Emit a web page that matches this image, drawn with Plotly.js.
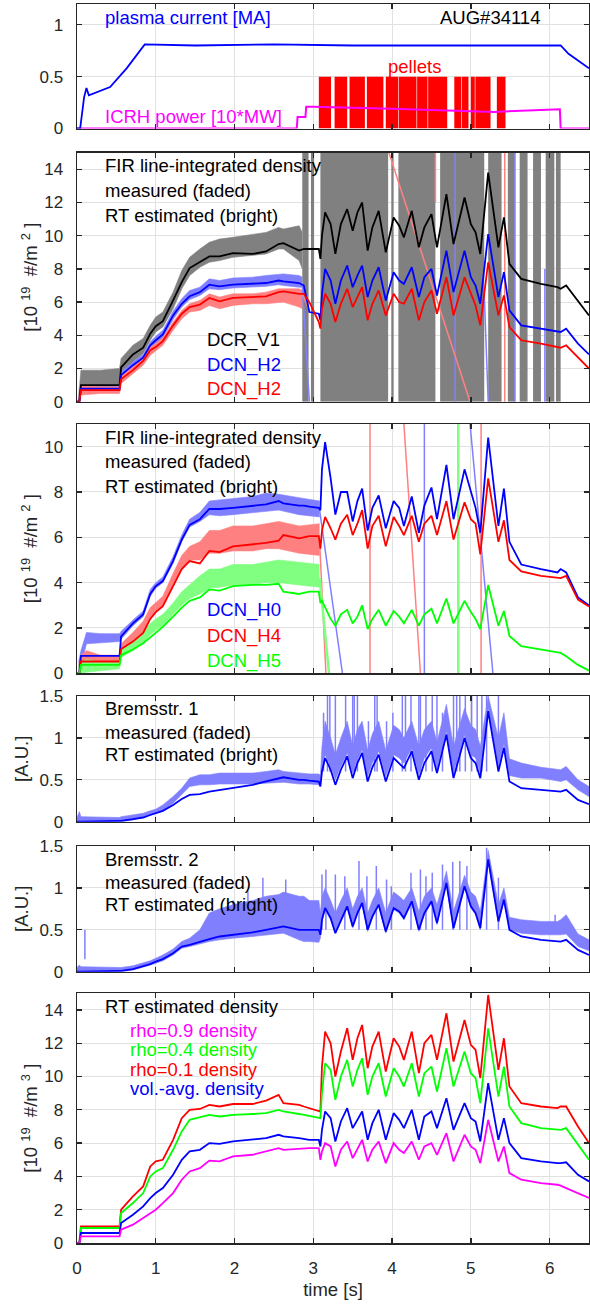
<!DOCTYPE html>
<html><head><meta charset="utf-8">
<script src="https://cdn.plot.ly/plotly-3.0.1.min.js"></script>
<style>html,body{margin:0;padding:0;background:#fff;} #chart{width:590px;height:1304px;}</style>
</head><body><div id="chart"></div>
<script>
// ---------------- DATA ----------------
// panel 1
const t_ip = [0, 0.04, 0.09, 0.12, 0.15, 0.42, 0.63, 0.86, 1.5, 2.5, 3.5, 4.5, 5.5, 6.14, 6.24, 6.5];
const ip   = [0, 0, 0.3, 0.39, 0.32, 0.40, 0.58, 0.81, 0.80, 0.81, 0.80, 0.80, 0.80, 0.80, 0.72, 0.58];
const t_icrh = [0, 2.79, 2.80, 2.90, 2.91, 3.0, 4.0, 4.97, 5.30, 6.13, 6.14, 6.5];
const icrh   = [0, 0, 0.11, 0.11, 0.21, 0.21, 0.19, 0.165, 0.16, 0.185, 0, 0];
const pellet_start = [3.07, 3.27, 3.46, 3.68, 3.92, 4.088, 4.318, 4.458, 4.79, 4.888, 5.0, 5.058, 5.33];
const pellet_end   = [3.225, 3.43, 3.655, 3.89, 4.08, 4.31, 4.45, 4.70, 4.88, 4.97, 5.05, 5.25, 5.44];
const pellet_level = 0.5;

// common time base of the RT estimated traces
const T = [0, 0.03, 0.05, 0.54, 0.56, 0.71, 0.84, 0.93,
           1.0, 1.09, 1.22, 1.33, 1.43, 1.56, 1.68, 1.81,
           1.98, 2.23, 2.40, 2.56, 2.62, 2.82, 2.88, 2.95,
           3.07, 3.09, 3.11, 3.15, 3.22, 3.28, 3.35, 3.43,
           3.50, 3.56, 3.62, 3.69, 3.75, 3.83, 3.92, 4.02,
           4.09, 4.15, 4.25, 4.34, 4.41, 4.50, 4.57, 4.69,
           4.78, 4.92, 5.00, 5.06, 5.12, 5.22, 5.35, 5.42,
           5.49, 5.64, 5.89, 6.10, 6.14, 6.21, 6.36, 6.50];

// panel 2 RT estimated
const dcr_v1_rt = [0, 0, 1.0, 1.0, 2.06, 2.85, 3.25, 4.1,
  4.55, 4.85, 6.1, 7.2, 8.05, 8.4, 8.75, 8.75,
  8.95, 8.9, 9.05, 9.5, 9.55, 9.1, 9.2, 9.2,
  9.2, 8.6, 10.0, 11.4, 10.7, 8.9, 10.7, 11.6,
  10.3, 11.4, 12.0, 9.1, 10.5, 11.5, 9.0, 11.1,
  10.6, 9.9, 11.5, 9.3, 10.5, 11.3, 9.3, 12.5,
  9.5, 12.3, 10.7, 10.2, 8.9, 13.8, 9.3, 11.1,
  8.3, 7.4, 7.1, 6.9, 6.8, 7.0, 6.1, 5.2];
const dcn_h2_rt = [0, 0, 0.78, 0.78, 1.6, 2.2, 2.65, 3.4,
  3.7, 4.05, 5.2, 5.9, 6.35, 6.6, 7.05, 6.95,
  7.05, 7.1, 7.15, 7.3, 7.25, 7.15, 7.0, 5.4,
  5.3, 4.9, 6.5, 8.0, 7.3, 5.9, 7.3, 8.2,
  6.9, 7.6, 8.2, 6.3, 7.3, 8.1, 6.1, 7.8,
  7.3, 7.1, 8.1, 6.3, 7.5, 8.0, 6.4, 9.1,
  6.6, 9.1, 7.5, 7.0, 5.9, 10.1, 6.3, 7.8,
  5.5, 4.6, 4.4, 4.2, 4.2, 4.4, 3.5, 2.85];
const dcn_h2b_rt = [0, 0, 0.7, 0.7, 1.36, 1.9, 2.45, 3.1,
  3.3, 3.65, 4.6, 5.3, 5.7, 5.85, 6.25, 6.05,
  6.25, 6.3, 6.35, 6.6, 6.65, 6.5, 6.5, 6.0,
  4.8, 4.4, 5.6, 6.5, 5.9, 4.8, 5.9, 6.8,
  5.7, 6.3, 6.9, 4.9, 5.9, 6.7, 5.2, 6.5,
  6.0, 5.9, 6.8, 4.9, 6.0, 6.7, 5.3, 7.5,
  5.2, 7.5, 6.5, 5.8, 4.6, 8.4, 5.2, 6.4,
  4.5, 3.7, 3.5, 3.3, 3.25, 3.4, 2.65, 2.0];

// panel 2 measured (faded) bands
const t_m2 = [0.02, 0.05, 0.3, 0.54, 0.56, 0.71, 0.84, 0.93, 1.0, 1.09, 1.22, 1.33, 1.43, 1.56, 1.68, 1.81, 1.98, 2.23, 2.40, 2.56, 2.62, 2.82, 2.86];
const dcr_v1_lo = [0, 0.8, 0.9, 0.9, 1.7, 2.4, 2.9, 3.7, 4.2, 4.5, 5.6, 6.8, 7.6, 8.1, 8.4, 8.5, 8.7, 8.8, 8.9, 9.2, 9.2, 8.5, 8.0];
const dcr_v1_hi = [0.3, 1.9, 1.9, 2.0, 2.6, 3.4, 3.8, 4.6, 5.1, 5.4, 6.6, 7.9, 8.7, 9.2, 9.6, 9.8, 9.9, 10.1, 10.2, 10.5, 10.4, 10.6, 10.2];
const dcn_h2_lo = [0, 0.5, 0.6, 0.6, 1.4, 2.0, 2.45, 3.2, 3.5, 3.85, 4.95, 5.7, 6.15, 6.4, 6.8, 6.75, 6.85, 6.9, 6.95, 7.05, 7.0, 6.9, 6.9];
const dcn_h2_hi = [0.2, 1.0, 1.0, 1.0, 1.8, 2.4, 2.85, 3.6, 3.95, 4.3, 5.45, 6.2, 6.7, 6.9, 7.4, 7.3, 7.45, 7.5, 7.6, 7.7, 7.7, 7.6, 7.5];
const dcn_h2b_lo = [0, 0.4, 0.5, 0.5, 1.1, 1.7, 2.2, 2.8, 3.05, 3.4, 4.3, 5.0, 5.4, 5.5, 5.8, 5.6, 5.8, 5.9, 5.9, 6.0, 6.0, 5.7, 5.6];
const dcn_h2b_hi = [0.2, 1.0, 0.9, 0.9, 1.6, 2.1, 2.65, 3.3, 3.5, 3.85, 4.8, 5.5, 5.9, 6.1, 6.5, 6.3, 6.5, 6.5, 6.6, 6.8, 6.8, 6.8, 6.7];
// DCR_V1 fringe-jump blocks (measured, faded)
const fringe_start = [2.86, 2.97, 3.09, 3.99, 4.08, 4.61, 5.22, 5.47, 5.62, 5.79, 5.95, 6.08];
const fringe_end   = [2.94, 3.01, 3.95, 4.02, 4.55, 5.17, 5.39, 5.56, 5.72, 5.89, 6.06, 6.14];
const fringe_level = 15;
// measured H2 jumps (faded lines)
const ghost2_blue_t = [2.86, 2.95, null, 4.80, 4.80, null, 5.17, 5.22, null, 5.56, 5.56, null, 5.94, 5.94];
const ghost2_blue_v = [7.0, 0, null, 0, 15, null, 6.5, 0, null, 0, 15, null, 0, 8];
const ghost2_red_t = [2.86, 2.95, null, 3.96, 4.99, null, 4.55, 4.55, null, 5.43, 5.43];
const ghost2_red_v = [6.5, 5.5, null, 15, 0, null, 12, 15, null, 0, 15];

// panel 3 RT estimated
const dcn_h0_rt = [0, 0, 0.77, 0.77, 1.63, 2.2, 2.6, 3.5,
  3.85, 4.07, 4.96, 5.9, 6.55, 6.8, 7.25, 7.25,
  7.3, 7.4, 7.45, 7.6, 7.5, 7.4, 7.4, 7.35,
  7.3, 7.2, 9.0, 10.2, 8.6, 7.0, 8.0, 8.0,
  6.7, 7.6, 8.15, 6.3, 7.3, 7.85, 6.4, 7.6,
  7.3, 6.5, 7.8, 6.2, 7.4, 8.2, 6.8, 9.2,
  6.8, 9.0, 8.0, 7.3, 6.2, 10.4, 6.5, 8.15,
  5.8, 4.8, 4.6, 4.45, 4.6, 4.45, 3.35, 3.0];
const dcn_h4_rt = [0, 0, 0.52, 0.52, 1.07, 1.4, 1.78, 2.4,
  2.7, 2.96, 3.85, 4.6, 4.95, 4.85, 5.4, 5.35,
  5.6, 5.7, 5.75, 5.85, 6.1, 5.95, 6.0, 6.05,
  6.05, 5.5, 6.3, 6.9, 6.4, 5.9, 6.6, 7.0,
  6.1, 6.6, 7.2, 5.5, 6.5, 6.95, 5.6, 6.9,
  6.5, 6.1, 6.95, 5.8, 6.6, 6.95, 6.1, 7.6,
  5.9, 7.55, 6.8, 6.6, 5.25, 8.6, 5.8, 6.75,
  5.0, 4.5, 4.3, 4.2, 4.2, 4.3, 3.25, 2.95];
const dcn_h5_rt = [0, 0, 0.37, 0.37, 0.8, 1.05, 1.33, 1.6,
  1.8, 2.05, 2.5, 2.9, 3.2, 3.35, 3.7, 3.65,
  3.85, 3.9, 3.9, 3.95, 3.6, 3.5, 3.55, 3.6,
  3.6, 3.1, 3.2, 2.9, 2.4, 2.1, 2.6, 2.8,
  2.2, 2.5, 3.0, 1.95, 2.4, 2.8, 2.1, 2.75,
  2.5, 2.2, 2.8, 2.1, 2.6, 2.85, 2.2, 3.3,
  2.2, 3.2, 2.7, 2.4, 1.95, 3.9, 2.1, 2.75,
  1.65, 1.2, 1.05, 0.9, 0.9, 0.75, 0.37, 0.12];

// panel 3 measured (faded) bands
const t_m3 = [0.02, 0.05, 0.12, 0.3, 0.54, 0.56, 0.71, 0.84, 0.93, 1.0, 1.09, 1.22, 1.33, 1.43, 1.56, 1.68, 1.81, 1.98, 2.23, 2.40, 2.56, 2.82, 3.08];
const dcn_h0_lo = [0, 0.3, 1.3, 1.35, 1.4, 1.5, 2.1, 2.5, 3.4, 3.75, 4.0, 4.85, 5.8, 6.45, 6.7, 7.0, 6.95, 7.0, 7.1, 7.15, 7.2, 7.0, 6.9];
const dcn_h0_hi = [0.5, 1.0, 1.8, 1.75, 1.75, 1.85, 2.35, 2.75, 3.7, 4.0, 4.25, 5.15, 6.1, 6.8, 7.1, 7.6, 7.65, 7.7, 7.8, 7.95, 7.9, 7.75, 7.6];
const dcn_h4_lo = [0, 0.2, 0.3, 0.3, 0.35, 0.9, 1.3, 1.75, 2.4, 2.7, 2.95, 3.9, 4.6, 5.0, 5.0, 5.3, 5.3, 5.4, 5.4, 5.5, 5.5, 5.3, 5.2];
const dcn_h4_hi = [0.3, 0.8, 1.0, 0.8, 0.8, 1.3, 1.8, 2.3, 2.9, 3.1, 3.4, 4.4, 5.2, 5.6, 5.8, 6.3, 6.3, 6.5, 6.5, 6.6, 6.7, 6.5, 6.6];
const dcn_h5_lo = [0, 0.0, 0.05, 0.1, 0.2, 0.7, 1.0, 1.35, 1.7, 1.9, 2.1, 2.6, 3.0, 3.3, 3.5, 3.75, 3.8, 3.9, 3.9, 4.0, 4.0, 3.9, 3.8];
const dcn_h5_hi = [0.3, 0.5, 0.6, 0.5, 0.5, 1.0, 1.4, 1.8, 2.2, 2.4, 2.6, 3.1, 3.6, 3.9, 4.3, 4.6, 4.6, 4.8, 4.8, 4.9, 5.0, 4.9, 4.8];
const ghost3_blue_t = [3.08, 3.37, null, 4.41, 4.41, null, 4.99, 5.28];
const ghost3_blue_v = [7.2, 0, null, 0, 11, null, 11, 0];
const ghost3_red_t = [3.08, 3.16, null, 3.72, 3.72, null, 4.15, 4.36, null, 5.13, 5.13];
const ghost3_red_v = [5.8, 0, null, 0, 11, null, 11, 0, null, 0, 11];
const ghost3_green_t = [3.08, 3.2, null, 4.84, 4.84];
const ghost3_green_v = [4.2, 0, null, 0, 11];

// panel 4 Bremsstrahlung 1
const brems1_rt = [0, 0, 0, 0.01, 0.01, 0.03, 0.05, 0.08,
  0.1, 0.13, 0.2, 0.27, 0.32, 0.33, 0.36, 0.38,
  0.40, 0.44, 0.48, 0.52, 0.53, 0.5, 0.5, 0.49,
  0.48, 0.42, 0.6, 0.76, 0.62, 0.44, 0.62, 0.78,
  0.52, 0.7, 0.82, 0.48, 0.65, 0.8, 0.48, 0.76,
  0.7, 0.64, 0.84, 0.5, 0.7, 0.84, 0.58, 1.04,
  0.52, 1.0, 0.76, 0.7, 0.52, 1.32, 0.6, 0.88,
  0.48, 0.4, 0.38, 0.36, 0.36, 0.38, 0.26, 0.21];
const brems1_lo = [0, 0, 0, 0, 0, 0.02, 0.05, 0.08,
  0.1, 0.13, 0.22, 0.32, 0.42, 0.44, 0.44, 0.45,
  0.45, 0.45, 0.46, 0.47, 0.47, 0.45, 0.45, 0.45,
  0.44, 0.42, 0.6, 0.8, 0.66, 0.5, 0.66, 0.82,
  0.58, 0.74, 0.86, 0.54, 0.7, 0.84, 0.54, 0.8,
  0.76, 0.7, 0.88, 0.56, 0.76, 0.88, 0.64, 1.08,
  0.58, 1.04, 0.8, 0.76, 0.58, 1.36, 0.66, 0.92,
  0.55, 0.52, 0.52, 0.48, 0.48, 0.5, 0.38, 0.3];
const brems1_hi = [0.05, 0.12, 0.06, 0.05, 0.06, 0.08, 0.1, 0.13,
  0.15, 0.2, 0.3, 0.4, 0.52, 0.56, 0.56, 0.58,
  0.58, 0.58, 0.6, 0.62, 0.6, 0.58, 0.58, 0.57,
  0.57, 0.55, 0.9, 1.2, 1.0, 0.8, 1.0, 1.2,
  0.9, 1.1, 1.2, 0.85, 1.05, 1.2, 0.85, 1.15,
  1.1, 1.0, 1.2, 0.9, 1.1, 1.2, 0.95, 1.4,
  0.9, 1.35, 1.15, 1.1, 0.9, 1.5, 1.0, 1.3,
  0.75, 0.7, 0.65, 0.62, 0.62, 0.66, 0.5, 0.42];
const brems1_spike_t = [3.13, 3.18, 3.21, 3.28, 3.41, 3.50, 3.52, 3.56, 3.70, 3.78, 3.81, 3.93, 4.01, 4.13, 4.17, 4.24, 4.34, 4.36, 4.43, 4.51, 4.57, 4.64, 4.78, 4.82, 4.86, 4.93, 5.01, 5.08, 5.14, 5.20, 5.35];
const brems1_spike_v = [1.3, 1.5, 1.5, 1.5, 1.5, 1.5, 1.5, 1.5, 1.2, 1.5, 1.5, 1.2, 1.3, 1.5, 1.5, 1.5, 1.5, 1.5, 1.5, 1.5, 1.5, 1.3, 1.5, 1.5, 1.5, 1.5, 1.5, 1.5, 1.5, 1.5, 1.5];

// panel 5 Bremsstrahlung 2
const brems2_rt = [0, 0, 0, 0.01, 0.01, 0.03, 0.06, 0.09,
  0.12, 0.15, 0.22, 0.3, 0.32, 0.36, 0.39, 0.42,
  0.44, 0.47, 0.5, 0.53, 0.54, 0.5, 0.5, 0.5,
  0.5, 0.44, 0.62, 0.76, 0.64, 0.46, 0.62, 0.78,
  0.54, 0.7, 0.82, 0.5, 0.66, 0.8, 0.48, 0.76,
  0.72, 0.64, 0.84, 0.5, 0.7, 0.84, 0.58, 1.06,
  0.52, 1.02, 0.78, 0.7, 0.52, 1.34, 0.6, 0.86,
  0.5, 0.42, 0.38, 0.36, 0.36, 0.38, 0.26, 0.2];
const brems2_lo = [0, 0, 0, 0, 0, 0.02, 0.05, 0.08,
  0.1, 0.13, 0.2, 0.28, 0.3, 0.33, 0.36, 0.38,
  0.4, 0.42, 0.44, 0.46, 0.46, 0.38, 0.36, 0.36,
  0.35, 0.4, 0.6, 0.74, 0.62, 0.46, 0.6, 0.76,
  0.52, 0.68, 0.8, 0.48, 0.64, 0.78, 0.46, 0.74,
  0.7, 0.62, 0.82, 0.48, 0.68, 0.82, 0.56, 1.04,
  0.5, 1.0, 0.76, 0.68, 0.5, 1.32, 0.58, 0.84,
  0.5, 0.46, 0.44, 0.44, 0.44, 0.45, 0.3, 0.25];
const brems2_hi = [0.05, 0.08, 0.06, 0.05, 0.05, 0.07, 0.1, 0.13,
  0.16, 0.2, 0.27, 0.36, 0.4, 0.5, 0.7, 0.75,
  0.8, 0.85, 0.9, 0.92, 0.95, 0.9, 0.9, 0.85,
  0.85, 0.7, 0.9, 1.0, 0.85, 0.7, 0.85, 1.0,
  0.75, 0.9, 1.0, 0.7, 0.85, 1.0, 0.7, 0.95,
  0.9, 0.85, 1.0, 0.72, 0.9, 1.0, 0.8, 1.2,
  0.72, 1.15, 0.95, 0.9, 0.72, 1.45, 0.8, 1.0,
  0.65, 0.62, 0.6, 0.6, 0.62, 0.68, 0.45, 0.38];
const brems2_spike_t = [0.1, 1.98, 2.17, 2.36, 2.65, 3.11, 3.16, 3.28, 3.40, 3.58, 3.68, 3.80, 3.93, 3.99, 4.24, 4.36, 4.43, 4.51, 4.64, 4.77, 4.86, 4.95, 5.20, 5.35, 6.07];
const brems2_spike_v = [0.15, 0.85, 0.96, 1.12, 1.1, 1.16, 1.22, 1.16, 1.14, 1.32, 1.14, 1.26, 1.1, 1.02, 1.18, 1.22, 1.14, 1.18, 1.28, 1.31, 1.32, 1.26, 1.48, 1.12, 0.68];

// panel 6 RT estimated profiles
const rho01 = [0, 0, 1.0, 1.0, 2.0, 2.8, 3.4, 4.6,
  4.9, 5.0, 6.2, 7.5, 8.0, 8.05, 8.3, 8.2,
  8.35, 8.35, 8.55, 8.9, 8.4, 8.3, 8.2, 8.1,
  7.9, 7.9, 10.6, 12.7, 12.0, 10.0, 11.5, 12.9,
  11.0, 12.3, 13.1, 10.5, 11.8, 12.7, 10.3, 12.3,
  11.8, 11.0, 12.7, 10.2, 12.0, 12.5, 11.0, 13.8,
  10.9, 13.4, 11.9, 11.6, 9.9, 14.9, 10.4, 12.3,
  9.4, 8.4, 8.2, 8.1, 8.2, 8.2, 7.0, 6.0];
const rho04 = [0, 0, 0.9, 0.9, 1.8, 2.4, 3.0, 4.0,
  4.3, 4.5, 5.6, 6.7, 7.4, 7.55, 7.7, 7.6,
  7.7, 7.75, 7.8, 8.0, 7.9, 7.75, 7.7, 7.6,
  7.5, 7.5, 9.0, 10.8, 10.4, 8.6, 10.0, 11.0,
  9.4, 10.4, 11.1, 8.9, 10.0, 10.8, 8.8, 10.5,
  10.0, 9.4, 10.8, 8.8, 10.2, 10.6, 9.1, 11.7,
  9.4, 11.5, 10.2, 9.9, 8.4, 12.9, 8.8, 10.6,
  8.2, 7.2, 6.9, 6.8, 6.8, 6.9, 5.9, 5.0];
const volavg = [0, 0, 0.6, 0.6, 1.2, 1.7, 2.2, 2.7,
  3.0, 3.3, 4.1, 5.0, 5.5, 5.6, 6.0, 5.95,
  6.1, 6.2, 6.3, 6.5, 6.4, 6.3, 6.25, 6.2,
  6.2, 5.8, 6.8, 7.9, 7.5, 6.1, 7.3, 8.1,
  6.9, 7.4, 7.9, 6.2, 7.2, 8.0, 6.2, 7.8,
  7.4, 6.9, 8.0, 6.2, 7.6, 7.9, 6.9, 8.7,
  6.8, 8.4, 7.5, 7.3, 6.1, 9.6, 6.2, 7.5,
  6.0, 5.1, 4.9, 4.8, 4.8, 4.85, 4.1, 3.7];
const rho09 = [0, 0, 0.4, 0.4, 0.8, 1.1, 1.5, 1.8,
  2.0, 2.4, 3.0, 3.8, 4.3, 4.5, 4.95, 4.9,
  5.2, 5.3, 5.5, 5.7, 5.6, 5.65, 5.7, 5.7,
  5.7, 5.0, 5.5, 6.0, 5.8, 4.6, 5.6, 6.1,
  5.1, 5.7, 6.2, 4.9, 5.6, 6.1, 4.8, 6.0,
  5.6, 5.4, 6.1, 5.0, 5.8, 6.0, 5.3, 6.6,
  4.9, 6.5, 5.8, 5.6, 4.8, 7.4, 4.9, 5.8,
  4.2, 3.8, 3.6, 3.5, 3.45, 3.3, 3.0, 2.7];

const x_ticks = [0, 1, 2, 3, 4, 5, 6];

// ---------------- STYLE / LAYOUT ----------------
const FONT = 'Liberation Sans, Arial, Helvetica, sans-serif';
const BLUE = '#0000ff', RED = '#ff0000', GREEN = '#00ff00', MAG = '#ff00ff', BLACK = '#000000';
const FBLUE = 'rgb(128,128,255)', FRED = 'rgb(255,128,128)', FGREEN = 'rgb(128,255,128)', FGRAY = 'rgb(128,128,128)';
const W = 1.8;

const PLOT_TOP = 4, PLOT_BOT = 1243, PLOT_L = 77, PLOT_R = 589;
const H = PLOT_BOT - PLOT_TOP, WD = PLOT_R - PLOT_L;
const yd = (top, bot) => [(PLOT_BOT - bot) / H, (PLOT_BOT - top) / H];
const px = x => (x - PLOT_L) / WD;
const py = y => (PLOT_BOT - y) / H;

const traces = [];
function line(xa, ya, x, y, color, width) {
  traces.push({type: 'scatter', mode: 'lines', x: x, y: y, xaxis: xa, yaxis: ya,
    line: {color: color, width: width || W}, hoverinfo: 'skip', showlegend: false, connectgaps: false});
}
function band(xa, ya, x, lo, hi, color) {
  traces.push({type: 'scatter', mode: 'lines', x: x, y: lo, xaxis: xa, yaxis: ya,
    line: {color: color, width: 0.6}, hoverinfo: 'skip', showlegend: false});
  traces.push({type: 'scatter', mode: 'lines', x: x, y: hi, xaxis: xa, yaxis: ya, fill: 'tonexty',
    fillcolor: color, line: {color: color, width: 0.6}, hoverinfo: 'skip', showlegend: false});
}
function blocks(xa, ya, s, e, level, color) {
  traces.push({type: 'bar', x: s, y: s.map(() => level), width: s.map((v, i) => e[i] - v), offset: 0,
    xaxis: xa, yaxis: ya, marker: {color: color, line: {width: 0}}, hoverinfo: 'skip', showlegend: false});
}
function spikes(xa, ya, ts, vs, base, color) {
  const x = [], y = [];
  ts.forEach((t, i) => { x.push(t, t, null); y.push(base, vs[i], null); });
  line(xa, ya, x, y, color, 1.5);
}

// panel 1
blocks('x', 'y', pellet_start, pellet_end, pellet_level, RED);
line('x', 'y', t_icrh, icrh, MAG, 2);
line('x', 'y', t_ip, ip, BLUE, 1.8);

// panel 2
blocks('x2', 'y2', fringe_start, fringe_end, fringe_level, FGRAY);
band('x2', 'y2', t_m2, dcr_v1_lo, dcr_v1_hi, FGRAY);
band('x2', 'y2', t_m2, dcn_h2_lo, dcn_h2_hi, FBLUE);
band('x2', 'y2', t_m2, dcn_h2b_lo, dcn_h2b_hi, FRED);
line('x2', 'y2', ghost2_blue_t, ghost2_blue_v, FBLUE, 1.5);
line('x2', 'y2', ghost2_red_t, ghost2_red_v, FRED, 1.5);
line('x2', 'y2', T, dcr_v1_rt, BLACK);
line('x2', 'y2', T, dcn_h2_rt, BLUE);
line('x2', 'y2', T, dcn_h2b_rt, RED);

// panel 3
band('x3', 'y3', t_m3, dcn_h0_lo, dcn_h0_hi, FBLUE);
band('x3', 'y3', t_m3, dcn_h4_lo, dcn_h4_hi, FRED);
band('x3', 'y3', t_m3, dcn_h5_lo, dcn_h5_hi, FGREEN);
line('x3', 'y3', ghost3_blue_t, ghost3_blue_v, FBLUE, 1.5);
line('x3', 'y3', ghost3_red_t, ghost3_red_v, FRED, 1.5);
line('x3', 'y3', ghost3_green_t, ghost3_green_v, FGREEN, 2.5);
line('x3', 'y3', T, dcn_h0_rt, BLUE);
line('x3', 'y3', T, dcn_h4_rt, RED);
line('x3', 'y3', T, dcn_h5_rt, GREEN);

// panel 4
band('x4', 'y4', T, brems1_lo, brems1_hi, FBLUE);
spikes('x4', 'y4', brems1_spike_t, brems1_spike_v, 0.6, FBLUE);
line('x4', 'y4', T, brems1_rt, BLUE);

// panel 5
band('x5', 'y5', T, brems2_lo, brems2_hi, FBLUE);
spikes('x5', 'y5', brems2_spike_t, brems2_spike_v, 0.5, FBLUE);
line('x5', 'y5', T, brems2_rt, BLUE);

// panel 6
line('x6', 'y6', T, rho01, RED);
line('x6', 'y6', T, rho04, GREEN);
line('x6', 'y6', T, volavg, BLUE);
line('x6', 'y6', T, rho09, MAG);

const AX = {color: '#262626', linecolor: '#262626', linewidth: 1.5, showline: true, mirror: 'ticks',
  ticks: 'inside', ticklen: 5, tickwidth: 1.3, tickcolor: '#262626', showgrid: true, gridcolor: '#e1e1e1',
  gridwidth: 1, zeroline: false, layer: 'above traces', tickfont: {family: FONT, size: 17, color: '#262626'}};
function xax(anchor, labels) {
  const a = Object.assign({}, AX, {domain: [0, 1], anchor: anchor, range: [0, 6.5], tickvals: x_ticks,
    showticklabels: labels, fixedrange: true});
  if (labels) { a.title = {text: 'time [s]', font: {family: FONT, size: 18.5, color: '#262626'}, standoff: 6};
    a.ticklabelstandoff = 9; }
  return a;
}
const YT_D = '[10 <sup>19</sup>  #/m <sup>2</sup> ]';
const YT_V = '[10 <sup>19</sup>  #/m <sup>3</sup> ]';
function yax(anchor, dom, range, tv, ttl, so) {
  const a = Object.assign({}, AX, {domain: dom, anchor: anchor, range: range, tickvals: tv, fixedrange: true,
    ticklabelstandoff: 9});
  if (ttl) a.title = {text: ttl, font: {family: FONT, size: 18.5, color: '#262626'}, standoff: so};
  return a;
}

const ann = [];
function txt(x, y, s, color) {
  ann.push({xref: 'paper', yref: 'paper', x: px(x), y: py(y), xanchor: 'left', yanchor: 'middle',
    text: s, showarrow: false, font: {family: FONT, size: 18.5, color: color || BLACK}});
}
txt(103, 17, 'plasma current [MA]', BLUE);
txt(438, 17, 'AUG#34114', BLACK);
txt(386, 67, 'pellets', RED);
txt(103, 117, 'ICRH power [10*MW]', MAG);
txt(103, 165, 'FIR line-integrated density');
txt(103, 190, 'measured (faded)');
txt(103, 215, 'RT estimated (bright)');
txt(205, 340, 'DCR_V1', BLACK);
txt(205, 365, 'DCN_H2', BLUE);
txt(205, 389, 'DCN_H2', RED);
txt(103, 437, 'FIR line-integrated density');
txt(103, 462, 'measured (faded)');
txt(103, 487, 'RT estimated (bright)');
txt(205, 610, 'DCN_H0', BLUE);
txt(205, 636, 'DCN_H4', RED);
txt(205, 661, 'DCN_H5', GREEN);
txt(103, 709, 'Bremsstr. 1');
txt(103, 732, 'measured (faded)');
txt(103, 754, 'RT estimated (bright)');
txt(103, 859, 'Bremsstr. 2');
txt(103, 882, 'measured (faded)');
txt(103, 904, 'RT estimated (bright)');
txt(103, 1006, 'RT estimated density');
txt(128, 1030, 'rho=0.9 density', MAG);
txt(128, 1049, 'rho=0.4 density', GREEN);
txt(128, 1069, 'rho=0.1 density', RED);
txt(128, 1088, 'vol.-avg. density', BLUE);

const layout = {
  width: 590, height: 1304, paper_bgcolor: '#ffffff', plot_bgcolor: '#ffffff',
  margin: {l: PLOT_L, r: 590 - PLOT_R, t: PLOT_TOP, b: 1304 - PLOT_BOT, pad: 0},
  font: {family: FONT, size: 17, color: '#262626'},
  showlegend: false, barmode: 'overlay', annotations: ann,
  xaxis: xax('y', false), xaxis2: xax('y2', false), xaxis3: xax('y3', false),
  xaxis4: xax('y4', false), xaxis5: xax('y5', false), xaxis6: xax('y6', true),
  yaxis: yax('x', yd(4, 128.5), [0, 1.2], [0, 0.5, 1], null, 0),
  yaxis2: yax('x2', yd(152.7, 401.7), [0, 15], [0, 2, 4, 6, 8, 10, 12, 14], YT_D, 1),
  yaxis3: yax('x3', yd(424, 673.3), [0, 11], [0, 2, 4, 6, 8, 10], YT_D, 1),
  yaxis4: yax('x4', yd(696, 821.7), [0, 1.5], [0, 0.5, 1, 1.5], '[A.U.]', 6),
  yaxis5: yax('x5', yd(846, 971.7), [0, 1.5], [0, 0.5, 1, 1.5], '[A.U.]', 6),
  yaxis6: yax('x6', yd(993.3, 1243), [0, 15], [0, 2, 4, 6, 8, 10, 12, 14], YT_V, 1)
};
Plotly.newPlot('chart', traces, layout, {staticPlot: true, displayModeBar: false});
</script></body></html>
